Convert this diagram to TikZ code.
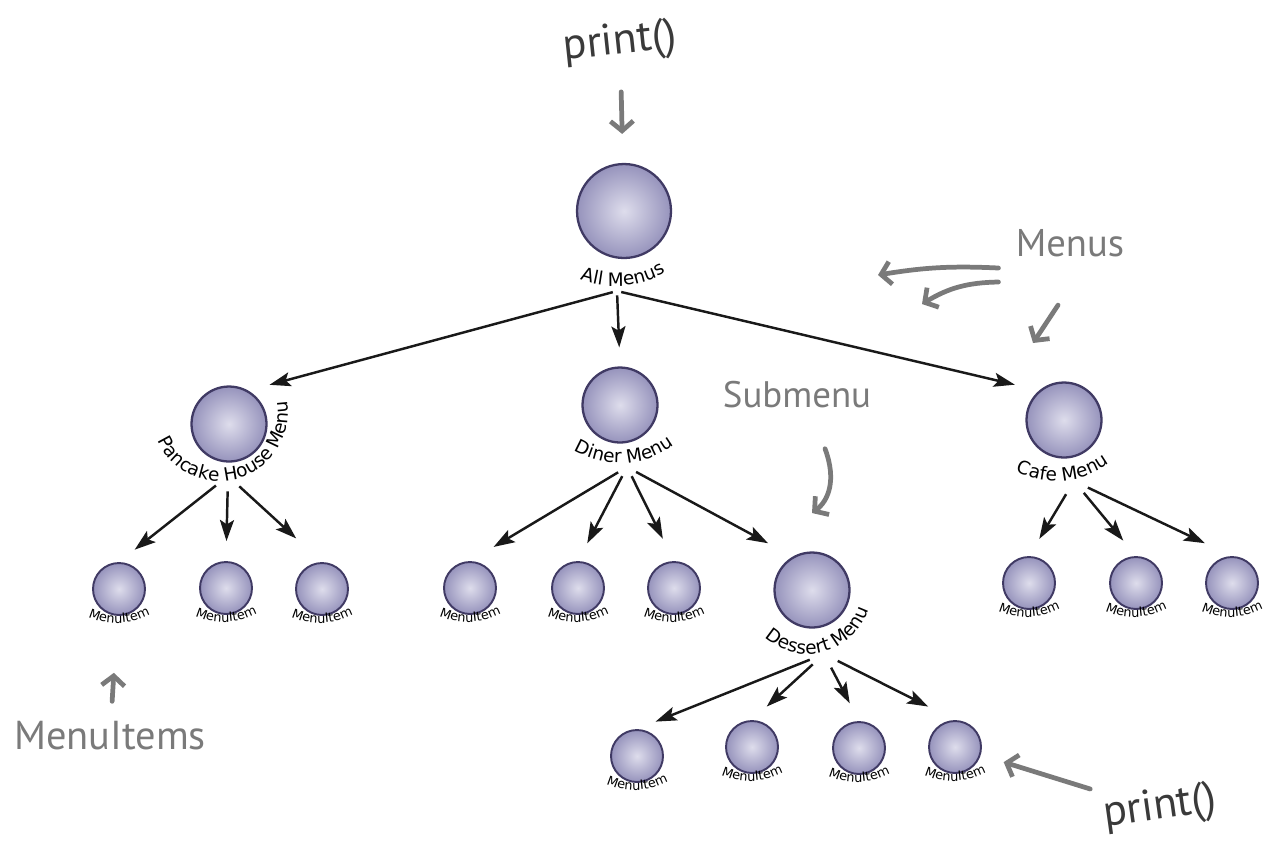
\documentclass[tikz,border=0pt]{standalone}
\usepackage{fontspec}
\setmainfont{DejaVu Sans}
\newfontfamily\notafont{PT Sans}
\usepackage{tikz}
\usetikzlibrary{arrows.meta, positioning, decorations.text}
\usepackage{xcolor}
\definecolor{bolaclara}{RGB}{222, 221, 236}
\definecolor{bolaescura}{RGB}{150, 147, 188}
\definecolor{bolaborda}{RGB}{64, 58, 100}
\definecolor{cinzanota}{RGB}{122, 122, 122}
\definecolor{cinzaprint}{RGB}{58, 58, 58}
\newcommand{\rotfont}{\fontsize{10.5pt}{11pt}\selectfont}
\newcommand{\itemfont}{\fontsize{7.3pt}{8pt}\selectfont}
\tikzset{
  bola/.style={circle, draw=bolaborda, line width=1.3pt, inner sep=0pt,
    inner color=bolaclara, outer color=bolaescura, minimum size=#1},
  bola/.default=1.5cm,
  bolinha/.style={bola=1.04cm, line width=1.1pt},
  nucleo/.style={circle, inner sep=0pt, minimum size=#1},
  nucleo/.default=0.6cm,
  seta/.style={-{Stealth[length=12pt, width=8pt, inset=2.5pt]}, line width=1.4pt, black!90},
  setanota/.style={-{Straight Barb[length=5.5pt, width=13pt]}, line width=2.7pt, cinzanota, line cap=round},
  nota/.style={font=\notafont\fontsize{#1}{#1}\selectfont, text=cinzanota, inner sep=0pt},
  nota/.default=22pt,
  rotulo/.style={decorate, decoration={text along path, text align=center, text={|\rotfont|#1}}},
  rotulinho/.style={decorate, decoration={text along path, text align=center, text={|\itemfont|#1}}},
}

\begin{document}
\begin{tikzpicture}[x=0.02cm, y=0.02cm]

\useasboundingbox (0,0) rectangle (1263,-843);

% =================================================
% MENUS
% =================================================

\node[bola=1.88cm] (raiz) at (624,-211) {};
\path[rotulo={All Menus}] (615,-186) ++(235:100) arc[start angle=235, end angle=315, radius=100];

\node[bola] (m1) at (229,-424) {};
\path[rotulo={Pancake House Menu}] (220,-413) ++(180:68) arc[start angle=180, end angle=394, radius=68];

\node[bola] (m2) at (620,-405) {};
\path[rotulo={Diner Menu}] (620,-373) ++(228:90) arc[start angle=228, end angle=318, radius=90];

\node[bola] (m3) at (1064,-420) {};
\path[rotulo={Cafe Menu}] (1056,-391) ++(230:90) arc[start angle=230, end angle=320, radius=90];

\node[bola] (m4) at (812,-590) {};
\path[rotulo={Dessert Menu}] (808,-591) ++(210:63) arc[start angle=210, end angle=360, radius=63];

% =================================================
% MENUITEMS
% =================================================

\node[bolinha] (i11) at (119,-589) {};
\node[bolinha] (i12) at (226,-588) {};
\node[bolinha] (i13) at (322,-589) {};

\node[bolinha] (i21) at (470,-588) {};
\node[bolinha] (i22) at (578,-588) {};
\node[bolinha] (i23) at (674,-588) {};

\node[bolinha] (i31) at (1029,-583) {};
\node[bolinha] (i32) at (1136,-583) {};
\node[bolinha] (i33) at (1232,-583) {};

\node[bolinha] (i41) at (637,-756) {};
\node[bolinha] (i42) at (752,-747) {};
\node[bolinha] (i43) at (859,-748) {};
\node[bolinha] (i44) at (955,-747) {};

\foreach \n in {i11,i12,i13,i21,i22,i23,i31,i32,i33,i41,i42,i43,i44}
  \path[rotulinho=MenuItem] ([shift={(-2,36)}]\n.center) ++(230:70) arc[start angle=230, end angle=314, radius=70];

% =================================================
% SETAS
% =================================================

\node[nucleo=0.16cm] (h0) at (617,-291) {};
\node[nucleo] (h1) at (228,-476) {};
\node[nucleo=0.4cm] (h2) at (627,-467) {};
\node[nucleo] (h3) at (1074,-481) {};
\node[nucleo] (h4) at (824,-654) {};

\draw[seta, shorten >=0.44cm] (h0) -- (m1.60);
\draw[seta, shorten >=0.38cm] (h0) -- (m2.north);
\draw[seta, shorten >=0.5cm] (h0) -- (m3.130);

\draw[seta, shorten >=0.4cm] (h1) -- (i11.north);
\draw[seta, shorten >=0.4cm] (h1) -- (i12.north);
\draw[seta, shorten >=0.7cm] (h1) -- (i13.north);

\draw[seta, shorten >=0.55cm] (h2) -- (i21.north);
\draw[seta, shorten >=0.4cm] (h2) -- (i22.north);
\draw[seta, shorten >=0.5cm] (h2) -- (i23.north);
\draw[seta, shorten >=0.56cm] (h2) -- (m4.120);

\draw[seta, shorten >=0.4cm] (h3) -- (i31.north);
\draw[seta, shorten >=0.4cm] (h3) -- (i32.north);
\draw[seta, shorten >=0.6cm] (h3) -- (i33.north);

\draw[seta, shorten >=0.4cm] (h4) -- (i41.north);
\draw[seta, shorten >=0.4cm] (h4) -- (i42.north);
\draw[seta, shorten >=0.4cm] (h4) -- (i43.north);
\draw[seta, shorten >=0.6cm] (h4) -- (i44.north);

% =================================================
% NOTAS
% =================================================

\node[nota=25pt, text=cinzaprint, rotate=6] (print1) at (620,-43) {print()};
\draw[setanota, shorten <=0.56cm, shorten >=0.58cm] (print1) -- (raiz);

\node[nota] (menus) at (1070,-243) {Menus};
\coordinate (pM1) at (878,-275);
\coordinate (pM2) at (922,-304);
\coordinate (pM3) at (1033,-343);
\draw[setanota] ([shift={(-17,-25)}]menus.west) to[bend right=6] (pM1);
\draw[setanota] ([shift={(-17,-39)}]menus.west) to[bend right=15] (pM2);
\draw[setanota] ([shift={(-12,-48)}]menus.south) -- (pM3);

\node[nota=21pt] (submenu) at (797,-395) {Submenu};
\coordinate (pS) at (812,-513);
\draw[setanota] ([shift={(28,-40)}]submenu.south) .. controls +(12,-32) and +(16,12) .. (pS);

\node[nota=23pt] (menuitems) at (110,-736) {MenuItems};
\draw[setanota, shorten <=0.4cm, shorten >=1.14cm] (menuitems) -- (i11);

\node[nota=25pt, text=cinzaprint, rotate=8] (print2) at (1160,-808) {print()};
\draw[setanota, shorten >=0.48cm] ([shift={(-13,27)}]print2.west) -- (i44);

\end{tikzpicture}
\end{document}
